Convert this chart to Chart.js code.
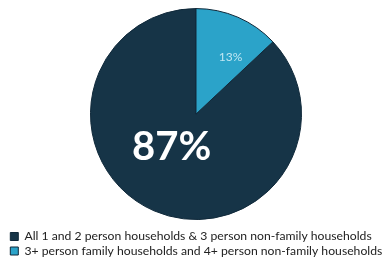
<!DOCTYPE html>
<html>
<head>
<meta charset="utf-8">
<script src="https://cdn.jsdelivr.net/npm/chart.js@4/dist/chart.umd.min.js"></script>
<style>
	html, body { margin: 0; padding: 0; background: #fff; }
	#wrap { width: 389px; height: 262px; }
</style>
</head>
<body>
<div id="wrap"><canvas id="householdPie"></canvas></div>
<script>
var categories = [
	'All 1 and 2 person households & 3 person non-family households',
	'3+ person family households and 4+ person non-family households'
];
var shares = [87, 13];
var shareLabels = ['87%', '13%'];
var sliceColors = ['#163447', '#2ba3c9'];

// the small slice sits just right of 12 o'clock, so start the big one where it ends
var startAngle = shares[1] / (shares[0] + shares[1]) * 360;

// draws the percentage text inside each slice
var sliceText = {
	id: 'sliceText',
	afterDatasetsDraw: function(chart, args, opts) {
		var ctx = chart.ctx;
		var arcs = chart.getDatasetMeta(0).data;
		arcs.forEach(function(arc, i) {
			var s = opts.styles[i];
			var mid = (arc.startAngle + arc.endAngle) / 2 + s.shift * Math.PI / 180;
			var r = arc.outerRadius * s.dist;
			ctx.save();
			ctx.font = s.font;
			ctx.fillStyle = s.color;
			ctx.textAlign = 'center';
			ctx.textBaseline = 'middle';
			ctx.fillText(shareLabels[i], arc.x + Math.cos(mid) * r, arc.y + Math.sin(mid) * r);
			ctx.restore();
		});
	}
};

var ctx = document.getElementById('householdPie').getContext('2d');

var myChart = new Chart(ctx, {
	type: 'pie',
	plugins: [sliceText],
	data: {
		labels: categories,
		datasets: [{
			data: shares,
			backgroundColor: sliceColors,
			borderColor: '#10293a',
			borderWidth: 1,
			radius: 105.5
		}]
	},
	options: {
		responsive: true,
		maintainAspectRatio: false,
		animation: false,
		rotation: startAngle,
		layout: {
			padding: { top: -8.1, bottom: -5.1, left: 8, right: 5 }
		},
		plugins: {
			tooltip: { enabled: false },
			legend: {
				position: 'bottom',
				align: 'start',
				labels: {
					boxWidth: 8,
					boxHeight: 8,
					padding: 2.3,
					color: '#222',
					font: { family: 'Lato', size: 12.2 }
				}
			},
			sliceText: {
				styles: [
					{ font: 'bold 40px Lato', color: '#ffffff', dist: 0.39, shift: 13 },
					{ font: '12px Lato', color: '#bfe6f2', dist: 0.63, shift: 8 }
				]
			}
		}
	}
});
</script>
</body>
</html>
